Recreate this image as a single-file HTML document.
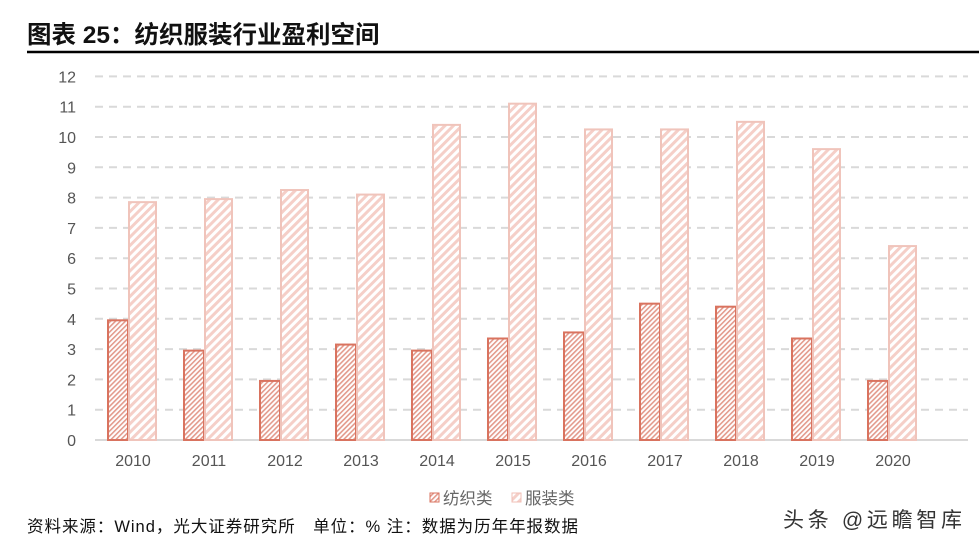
<!DOCTYPE html>
<html><head><meta charset="utf-8"><style>
body{margin:0;background:#fff;width:979px;height:547px;overflow:hidden;font-family:"Liberation Sans","Noto Sans CJK SC",sans-serif}
</style></head><body>
<svg width="979" height="547">
<defs>
<pattern id="p1" patternUnits="userSpaceOnUse" width="3.5" height="3.5" patternTransform="rotate(45)"><rect width="3.5" height="3.5" fill="#fff"/><rect width="1.6" height="3.5" fill="#e39a8c"/></pattern>
<pattern id="p2" patternUnits="userSpaceOnUse" width="6" height="6" patternTransform="rotate(45)"><rect width="6" height="6" fill="#fff"/><rect width="3" height="6" fill="#f5cfc8"/></pattern>
</defs>
<text x="27" y="43" font-size="24.5" font-weight="bold" fill="#111">图表 25：纺织服装行业盈利空间</text>
<line x1="27" y1="52" x2="979" y2="52" stroke="#000" stroke-width="2.5"/>
<g id="grid"></g><g id="bars"></g><g id="xl"></g>
<g>
<rect x="430" y="493" width="9" height="9" fill="url(#p1)" stroke="#d9735f"/>
<text x="443" y="504" font-size="16.5" fill="#666">纺织类</text>
<rect x="512" y="493" width="9" height="9" fill="url(#p2)" stroke="#f0bfb6"/>
<text x="525" y="504" font-size="16.5" fill="#666">服装类</text>
</g>
<text x="27" y="532" font-size="16.5" fill="#111" textLength="551">资料来源：Wind，光大证券研究所　单位：%  注：数据为历年年报数据</text>
<text x="783" y="527" font-size="21" fill="#333" textLength="179">头条 @远瞻智库</text>
</svg>
<script>
const years=["2010","2011","2012","2013","2014","2015","2016","2017","2018","2019","2020"];
const textile=[3.95,2.95,1.95,3.15,2.95,3.35,3.55,4.5,4.4,3.35,1.95];
const apparel=[7.85,7.95,8.25,8.1,10.4,11.1,10.25,10.25,10.5,9.6,6.4];
const yTicks=[0,1,2,3,4,5,6,7,8,9,10,11,12];
const NS="http://www.w3.org/2000/svg";
const y=v=>440-v*30.3, x=i=>133+i*76;
function mk(t,a,p){const e=document.createElementNS(NS,t);for(const k in a)e.setAttribute(k,a[k]);document.getElementById(p).appendChild(e);return e;}
yTicks.forEach(v=>{
 if(v>0){const l=mk('line',{x1:95,x2:968,y1:y(v),y2:y(v),stroke:'#d9d9d9','stroke-width':2,'stroke-dasharray':'8,6'},'grid');
 
 }
 const t=mk('text',{x:76,y:y(v)+6,'font-size':16,fill:'#555','text-anchor':'end'},'grid');t.textContent=v;
 
 
});
const ax=mk('line',{x1:95,x2:968,y1:440,y2:440,stroke:'#d9d9d9','stroke-width':2},'grid');


years.forEach((yr,i)=>{
 const a=mk('rect',{x:x(i)-25,y:y(textile[i]),width:20,height:440-y(textile[i]),fill:'url(#p1)',stroke:'#d9735f','stroke-width':2},'bars');
 
 
 const b=mk('rect',{x:x(i)-4,y:y(apparel[i]),width:27,height:440-y(apparel[i]),fill:'url(#p2)',stroke:'#f0c4bb','stroke-width':2},'bars');
 
 
 const t=mk('text',{x:x(i),y:466,'font-size':16,fill:'#555','text-anchor':'middle'},'xl');t.textContent=yr;
 
 
});
</script>
</body></html>
